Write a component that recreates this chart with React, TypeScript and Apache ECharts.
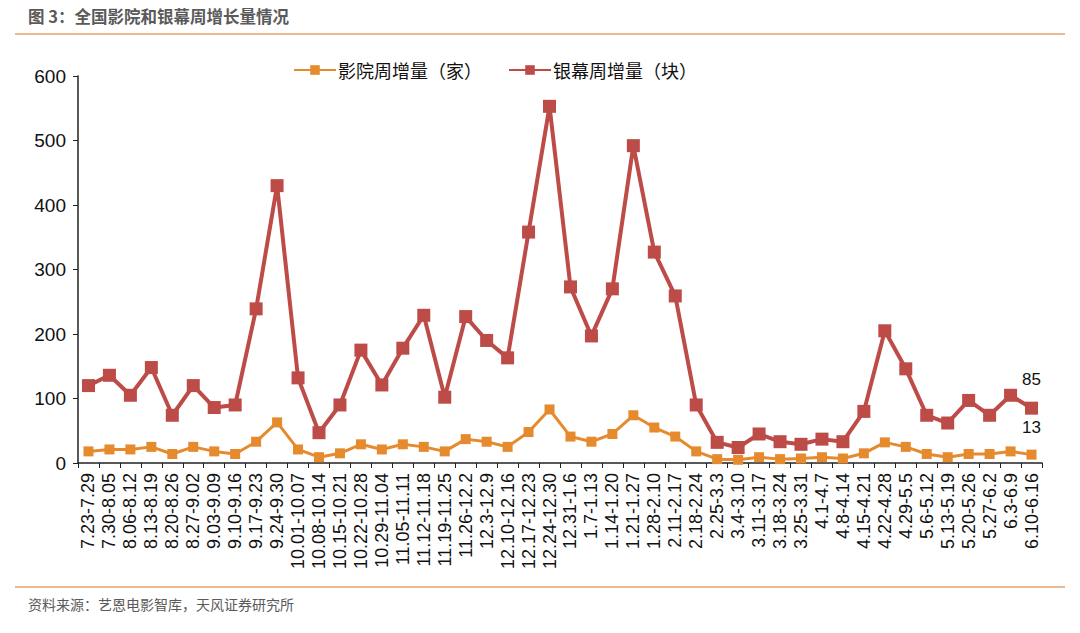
import React, { useEffect, useRef } from "react";
import * as echarts from "echarts";

const categories = [
  "7.23-7.29", "7.30-8.05", "8.06-8.12", "8.13-8.19", "8.20-8.26", "8.27-9.02",
  "9.03-9.09", "9.10-9.16", "9.17-9.23", "9.24-9.30", "10.01-10.07", "10.08-10.14",
  "10.15-10.21", "10.22-10.28", "10.29-11.04", "11.05-11.11", "11.12-11.18", "11.19-11.25",
  "11.26-12.2", "12.3-12.9", "12.10-12.16", "12.17-12.23", "12.24-12.30", "12.31-1.6",
  "1.7-1.13", "1.14-1.20", "1.21-1.27", "1.28-2.10", "2.11-2.17", "2.18-2.24",
  "2.25-3.3", "3.4-3.10", "3.11-3.17", "3.18-3.24", "3.25-3.31", "4.1-4.7",
  "4.8-4.14", "4.15-4.21", "4.22-4.28", "4.29-5.5", "5.6-5.12", "5.13-5.19",
  "5.20-5.26", "5.27-6.2", "6.3-6.9", "6.10-6.16",
];

const cinemaWeekly = [
  18, 21, 21, 25, 14, 25, 18, 14, 33, 63, 21, 9,
  15, 29, 21, 29, 25, 18, 37, 33, 25, 48, 83, 41,
  33, 45, 74, 55, 41, 18, 6, 5, 9, 6, 7, 9,
  7, 15, 32, 25, 14, 9, 14, 14, 18, 13,
];

const screenWeekly = [
  120, 136, 105, 148, 74, 120, 86, 90, 239, 430, 132, 47,
  90, 175, 121, 178, 229, 102, 227, 190, 163, 358, 553, 273,
  197, 270, 492, 327, 259, 90, 32, 24, 45, 33, 29, 37,
  33, 80, 205, 146, 74, 62, 97, 74, 105, 85,
];

const seriesNames = ["影院周增量（家）", "银幕周增量（块）"];
const yTicks = [0, 100, 200, 300, 400, 500, 600];

const ORANGE = "#E68A2E";
const RED = "#BD4B48";
const FONT = "'Liberation Sans', Arial, 'Noto Sans CJK SC', sans-serif";
const CJK = "'Noto Sans CJK SC', sans-serif";

export default function App() {
  const ref = useRef<HTMLDivElement>(null);

  useEffect(() => {
    if (!ref.current) return;
    const chart = echarts.init(ref.current, undefined, { renderer: "svg" });
    const lastIdx = categories.length - 1;
    const labelOnLast = () => ({
      show: true,
      position: "top" as const,
      distance: 14,
      color: "#111",
      fontSize: 17,
      fontFamily: FONT,
      formatter: (p: any) => (p.dataIndex === lastIdx ? String(p.value) : ""),
    });
    chart.setOption({
      animation: false,
      backgroundColor: "#fff",
      graphic: [
        {
          type: "text",
          left: 28,
          top: 8,
          style: {
            text: "图 3：全国影院和银幕周增长量情况",
            fill: "#5a5a5a",
            font: `bold 16.5px ${CJK}`,
          },
        },
        {
          type: "line",
          shape: { x1: 15, y1: 34, x2: 1065, y2: 34 },
          style: { stroke: "#E6A06A", lineWidth: 1.5 },
        },
        {
          type: "line",
          shape: { x1: 15, y1: 587, x2: 1065, y2: 587 },
          style: { stroke: "#E6A06A", lineWidth: 1.5 },
        },
        {
          type: "text",
          left: 28,
          top: 597,
          style: {
            text: "资料来源：艺恩电影智库，天风证券研究所",
            fill: "#5a5a5a",
            font: `14px ${CJK}`,
          },
        },
      ],
      legend: {
        top: 56,
        left: 288,
        itemWidth: 42,
        itemHeight: 12,
        itemGap: 26,
        textStyle: { fontSize: 18, color: "#111", fontFamily: CJK, padding: [0, 0, 0, -3] },
        data: seriesNames,
      },
      grid: { left: 78, right: 38, top: 76, bottom: 170, containLabel: false },
      xAxis: {
        type: "category",
        data: categories,
        boundaryGap: true,
        axisLine: { lineStyle: { color: "#222", width: 1.5 } },
        axisTick: { show: true, alignWithLabel: false, length: 5, lineStyle: { color: "#222" } },
        axisLabel: {
          interval: 0,
          rotate: 90,
          color: "#111",
          fontSize: 18,
          fontFamily: FONT,
          margin: 10,
        },
      },
      yAxis: {
        type: "value",
        min: yTicks[0],
        max: yTicks[yTicks.length - 1],
        interval: 100,
        axisLine: { show: true, lineStyle: { color: "#222", width: 1.5 } },
        axisTick: { show: true, length: 5, inside: false, lineStyle: { color: "#222" } },
        splitLine: { show: false },
        axisLabel: { color: "#111", fontSize: 19, fontFamily: FONT, margin: 12 },
      },
      series: [
        {
          name: seriesNames[0],
          type: "line",
          data: cinemaWeekly,
          symbol: "rect",
          symbolSize: 10,
          itemStyle: { color: ORANGE },
          lineStyle: { color: ORANGE, width: 3 },
          label: labelOnLast(),
          z: 3,
        },
        {
          name: seriesNames[1],
          type: "line",
          data: screenWeekly,
          symbol: "rect",
          symbolSize: 13,
          itemStyle: { color: RED },
          lineStyle: { color: RED, width: 4 },
          label: labelOnLast(),
          z: 2,
        },
      ],
    });
    return () => chart.dispose();
  }, []);

  return <div ref={ref} style={{ width: 1080, height: 633, position: "absolute", left: 0, top: 0 }} />;
}
